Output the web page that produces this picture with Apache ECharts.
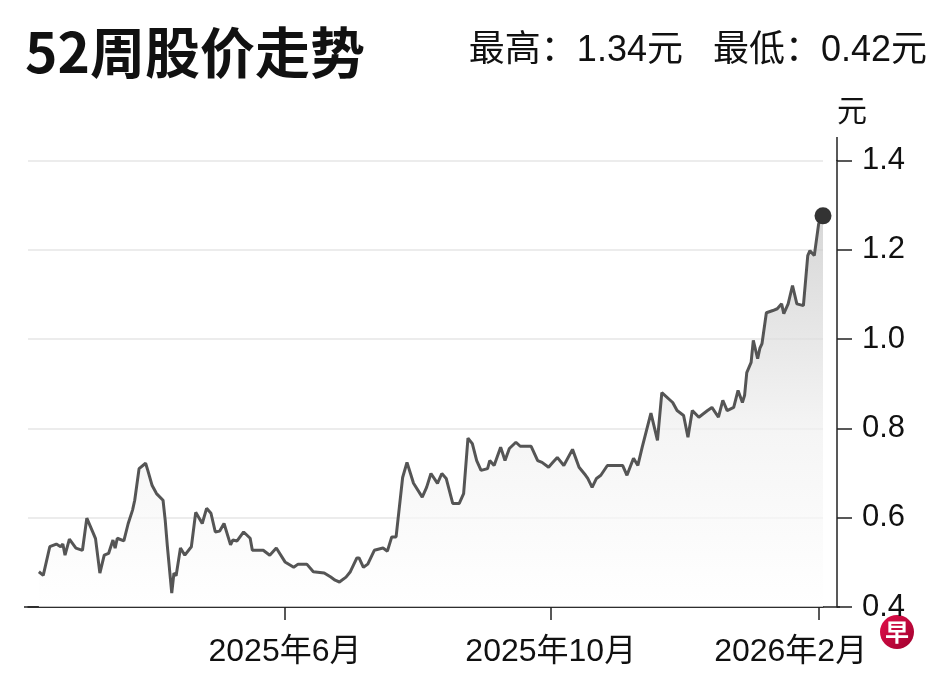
<!DOCTYPE html>
<html>
<head>
<meta charset="utf-8">
<script src="https://cdn.jsdelivr.net/npm/echarts@6/dist/echarts.min.js"></script>
<style>
html,body{margin:0;padding:0;background:#fff;}
#c{width:948px;height:681px;}
</style>
</head>
<body>
<div id="c"></div>
<script>
// ---- data ----
const titleText = '52周股价走势';
const highPrice = 1.34;
const lowPrice = 0.42;
const priceUnit = '元';
const tickDates = ['2025-06-01', '2025-10-01', '2026-02-01'];
const yTicks = [0.4, 0.6, 0.8, 1.0, 1.2, 1.4];
const dates = [
'2025-02-08','2025-02-10','2025-02-13','2025-02-16','2025-02-18','2025-02-19','2025-02-20','2025-02-22','2025-02-25','2025-02-28',
'2025-03-02','2025-03-05','2025-03-06','2025-03-08','2025-03-10','2025-03-12','2025-03-14','2025-03-15','2025-03-16','2025-03-19',
'2025-03-21','2025-03-23','2025-03-24','2025-03-26','2025-03-29','2025-03-30','2025-04-01','2025-04-03','2025-04-06','2025-04-07',
'2025-04-08','2025-04-10','2025-04-11','2025-04-12','2025-04-14','2025-04-16','2025-04-19','2025-04-21','2025-04-24','2025-04-26',
'2025-04-28','2025-04-30','2025-05-02','2025-05-04','2025-05-07','2025-05-08','2025-05-10','2025-05-13','2025-05-16','2025-05-17',
'2025-05-22','2025-05-25','2025-05-28','2025-06-01','2025-06-05','2025-06-07','2025-06-11','2025-06-14','2025-06-19','2025-06-22',
'2025-06-24','2025-06-26','2025-06-29','2025-07-01','2025-07-04','2025-07-05','2025-07-07','2025-07-09','2025-07-12','2025-07-16',
'2025-07-18','2025-07-20','2025-07-22','2025-07-25','2025-07-27','2025-07-30','2025-08-03','2025-08-05','2025-08-07','2025-08-10',
'2025-08-12','2025-08-14','2025-08-17','2025-08-20','2025-08-22','2025-08-24','2025-08-26','2025-08-28','2025-08-30','2025-09-02',
'2025-09-03','2025-09-05','2025-09-08','2025-09-10','2025-09-12','2025-09-15','2025-09-17','2025-09-22','2025-09-25','2025-09-27',
'2025-09-30','2025-10-02','2025-10-04','2025-10-07','2025-10-11','2025-10-14','2025-10-17','2025-10-18','2025-10-20','2025-10-22',
'2025-10-24','2025-10-27','2025-10-30','2025-11-03','2025-11-05','2025-11-08','2025-11-10','2025-11-12','2025-11-16','2025-11-19',
'2025-11-21','2025-11-26','2025-11-28','2025-12-01','2025-12-03','2025-12-05','2025-12-08','2025-12-12','2025-12-14','2025-12-17',
'2025-12-19','2025-12-21','2025-12-24','2025-12-26','2025-12-28','2025-12-29','2025-12-30','2026-01-01','2026-01-02','2026-01-04',
'2026-01-05','2026-01-06','2026-01-08','2026-01-11','2026-01-13','2026-01-15','2026-01-16','2026-01-18','2026-01-20','2026-01-22',
'2026-01-25','2026-01-27','2026-01-28','2026-01-30','2026-02-01','2026-02-03'
];
const prices = [
0.479,0.471,0.535,0.541,0.535,0.541,0.516,0.552,0.532,0.527,
0.599,0.565,0.553,0.476,0.516,0.520,0.550,0.532,0.554,0.548,
0.587,0.617,0.639,0.710,0.722,0.706,0.672,0.654,0.639,0.594,
0.535,0.431,0.476,0.470,0.532,0.516,0.535,0.612,0.587,0.621,
0.610,0.568,0.570,0.587,0.539,0.550,0.548,0.568,0.554,0.527,
0.527,0.516,0.532,0.501,0.489,0.496,0.496,0.479,0.476,0.467,
0.460,0.456,0.467,0.479,0.510,0.510,0.489,0.496,0.527,0.532,
0.525,0.557,0.557,0.690,0.724,0.677,0.646,0.668,0.699,0.677,
0.699,0.688,0.632,0.632,0.654,0.778,0.766,0.728,0.706,0.710,
0.728,0.717,0.758,0.728,0.755,0.769,0.760,0.760,0.728,0.724,
0.713,0.724,0.735,0.717,0.753,0.713,0.695,0.688,0.668,0.688,
0.695,0.717,0.717,0.717,0.695,0.733,0.717,0.758,0.834,0.773,
0.880,0.858,0.840,0.829,0.780,0.840,0.825,0.840,0.847,0.825,
0.863,0.840,0.847,0.885,0.858,0.874,0.925,0.948,0.997,0.956,
0.979,0.990,1.059,1.064,1.068,1.079,1.057,1.079,1.120,1.079,
1.075,1.187,1.198,1.187,1.258,1.276
];
const xMin = '2025-02-03';
const xMax = '2026-02-03';

// ---- chart ----
const FONT = "'Liberation Sans', 'Noto Sans CJK SC', sans-serif";
const CJK = "'Noto Sans CJK SC', 'Liberation Sans', sans-serif";
const ts = d => Date.parse(d + 'T00:00:00Z');
const tickTs = tickDates.map(ts);
const lastTick = tickTs[tickTs.length - 1];
const lineData = dates.map((d, i) => [ts(d), prices[i]]);
const lastIdx = dates.length - 1;

const chart = echarts.init(document.getElementById('c'), null, {renderer: 'canvas'});
chart.setOption({
  animation: false,
  backgroundColor: '#fff',
  title: [
    {text: titleText, left: 20, top: 20,
     textStyle: {fontSize: 55, fontWeight: 'bold', color: '#111', fontFamily: CJK}},
    {text: '最高：' + highPrice.toFixed(2) + priceUnit + '   最低：' + lowPrice.toFixed(2) + priceUnit,
     right: 16, top: 28,
     textStyle: {fontSize: 36, fontWeight: 'normal', color: '#111', fontFamily: FONT}}
  ],
  grid: {left: 28, right: 125, top: 160.5, bottom: 74},
  xAxis: {
    type: 'value', min: ts(xMin), max: ts(xMax),
    axisLine: {show: true, lineStyle: {color: '#222', width: 1.5}},
    axisTick: {show: true, customValues: tickTs, length: 13, lineStyle: {color: '#222', width: 1.5}},
    axisLabel: {
      customValues: tickTs, margin: 29, fontSize: 32, color: '#111', fontFamily: FONT,
      formatter: function (v) {
        const d = new Date(v);
        const s = d.getUTCFullYear() + '年' + (d.getUTCMonth() + 1) + '月';
        return v === lastTick ? '{r|' + s + '}' : s;
      },
      rich: {r: {fontSize: 32, color: '#111', fontFamily: FONT, padding: [0, 56, 0, 0]}}
    },
    splitLine: {show: false}
  },
  yAxis: {
    type: 'value', position: 'right', offset: 14,
    min: yTicks[0], max: yTicks[yTicks.length - 1], interval: 0.2,
    name: priceUnit, nameLocation: 'end', nameGap: 36,
    nameTextStyle: {align: 'left', fontSize: 30, color: '#111', fontFamily: CJK},
    axisLine: {show: true, lineStyle: {color: '#222', width: 1.5}},
    axisTick: {show: true, length: 15, lineStyle: {color: '#222', width: 1.5}},
    axisLabel: {margin: 25, fontSize: 31, color: '#111', fontFamily: FONT,
      formatter: v => v.toFixed(1)},
    splitLine: {show: true, lineStyle: {color: '#ececec', width: 2}}
  },
  graphic: [
    {type: 'line', z: 1, shape: {x1: 24, y1: 607, x2: 840, y2: 607}, style: {stroke: '#222', lineWidth: 1.5}},
    {type: 'line', z: 1, shape: {x1: 837, y1: 137, x2: 837, y2: 161}, style: {stroke: '#222', lineWidth: 1.5}},
    {type: 'group', left: 880, top: 615, children: [
      {type: 'circle', shape: {cx: 17, cy: 17, r: 17},
       style: {fill: new echarts.graphic.LinearGradient(0, 0, 1, 1, [{offset: 0, color: '#e2104a'}, {offset: 1, color: '#a0002e'}])}},
      {type: 'text', x: 17, y: 17, style: {text: '早', fill: '#fff', font: 'bold 24px "Noto Sans CJK SC"', align: 'center', verticalAlign: 'middle'}}
    ]}
  ],
  series: [
    {
      type: 'line', data: lineData, showSymbol: false, symbol: 'none',
      lineStyle: {color: '#555', width: 3},
      areaStyle: {color: new echarts.graphic.LinearGradient(0, 0, 0, 1, [
        {offset: 0, color: '#c6c6c6'},
        {offset: 0.32, color: '#dedede'},
        {offset: 0.56, color: '#f1f1f1'},
        {offset: 1, color: '#ffffff'}
      ])},
      z: 3
    },
    {
      type: 'scatter', data: [lineData[lastIdx]],
      symbol: 'circle', symbolSize: 17, itemStyle: {color: '#333', opacity: 1}, z: 5
    }
  ]
});
</script>
</body>
</html>
